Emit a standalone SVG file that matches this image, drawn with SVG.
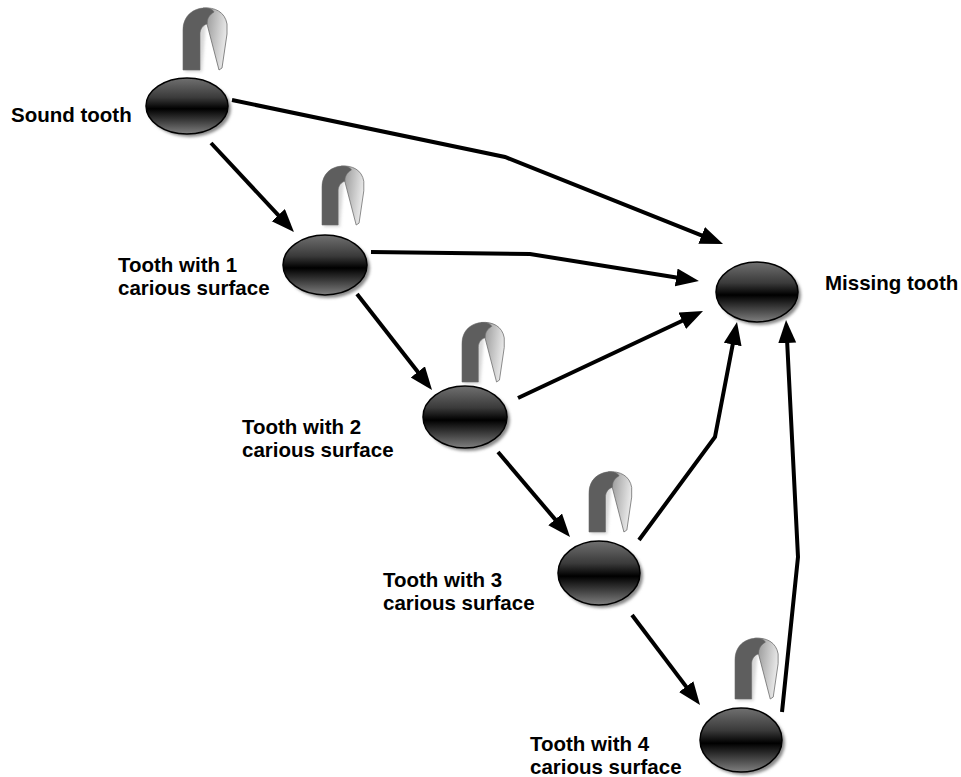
<svg xmlns="http://www.w3.org/2000/svg" width="961" height="777" viewBox="0 0 961 777">
<style>
.lbl{font-family:"Liberation Sans",Arial,sans-serif;font-weight:bold;font-size:20.5px;fill:#000}
.conn{fill:none;stroke:#000;stroke-width:4;stroke-linejoin:miter;marker-end:url(#ah)}
.tooth{fill:url(#tg);stroke:#000;stroke-width:1.5}
.shadow{fill:#8a8a8a;filter:url(#blur)}
</style>
<defs>
<linearGradient id="tg" x1="0" y1="0" x2="0" y2="1">
<stop offset="0" stop-color="#707070"/>
<stop offset="0.35" stop-color="#3a3a3a"/>
<stop offset="0.55" stop-color="#000"/>
<stop offset="0.7" stop-color="#2a2a2a"/>
<stop offset="1" stop-color="#808080"/>
</linearGradient>
<linearGradient id="lg" x1="0" y1="0" x2="1" y2="0.3">
<stop offset="0" stop-color="#8c8c8c"/>
<stop offset="1" stop-color="#e8e8e8"/>
</linearGradient>
<filter id="blur" x="-20%" y="-20%" width="140%" height="140%"><feGaussianBlur stdDeviation="1.5"/></filter>
<marker id="ah" markerUnits="userSpaceOnUse" markerWidth="26" markerHeight="20" refX="16" refY="9" orient="auto">
<path d="M0,0 L23,9 L0,18 Z" fill="#000"/>
</marker>
<g id="loop">
<path d="M2,2 L2,-38 C2,-52 12,-60 24,-60 L19,2 Z" fill="#bdbdbd" opacity="0.6" filter="url(#blur)"/>
<path d="M20,-62 C32,-63 42,-58 44,-46 L44,-36 L39,-2 L36,0 L24,-46 C24,-52 22,-56 20,-58 Z" fill="url(#lg)" stroke="#6a6a6a" stroke-width="0.8"/>
<path d="M0,0 L0,-40 C0,-54 10,-62 22,-62 C27,-62 30,-60 31,-58 C26,-55 24,-51 24,-46 C20,-45 17,-41 17,-36 L17,0 Z" fill="#5e5e5e" stroke="#6a6a6a" stroke-width="0.6"/>
</g>
</defs>

<g id="connectors">
<polyline class="conn" points="232,100 505,157 716.5,241.4"/>
<polyline class="conn" points="211,143 289.2,226.9"/>
<polyline class="conn" points="371,252 530,254 692,280"/>
<polyline class="conn" points="518,398 696.7,314"/>
<polyline class="conn" points="357,294 427.7,384.5"/>
<polyline class="conn" points="498,452 565.5,531.6"/>
<polyline class="conn" points="639,540 715,437 735.7,328.8"/>
<polyline class="conn" points="632,615 695.8,699.4"/>
<polyline class="conn" points="782,712 798,557 786.4,327"/>
</g>

<g id="sound">
<ellipse class="shadow" cx="190" cy="109" rx="41" ry="28"/>
<ellipse class="tooth" cx="187" cy="106" rx="41" ry="28"/>
<use href="#loop" transform="translate(183,70)"/>
<text class="lbl" x="11" y="122">Sound tooth</text>
</g>

<g id="tooth1">
<ellipse class="shadow" cx="328" cy="268" rx="42" ry="30"/>
<ellipse class="tooth" cx="325" cy="265" rx="42" ry="30"/>
<use href="#loop" transform="translate(322,225) scale(0.95)"/>
<text class="lbl" x="118" y="272">Tooth with 1</text>
<text class="lbl" x="118" y="295">carious surface</text>
</g>

<g id="tooth2">
<ellipse class="shadow" cx="468" cy="420" rx="42" ry="31"/>
<ellipse class="tooth" cx="465" cy="417" rx="42" ry="31"/>
<use href="#loop" transform="translate(462,382) scale(0.96)"/>
<text class="lbl" x="242" y="434">Tooth with 2</text>
<text class="lbl" x="242" y="457">carious surface</text>
</g>

<g id="tooth3">
<ellipse class="shadow" cx="602" cy="576" rx="41" ry="32"/>
<ellipse class="tooth" cx="599" cy="573" rx="41" ry="32"/>
<use href="#loop" transform="translate(589,532) scale(0.97)"/>
<text class="lbl" x="383" y="587">Tooth with 3</text>
<text class="lbl" x="383" y="610">carious surface</text>
</g>

<g id="tooth4">
<ellipse class="shadow" cx="744" cy="743" rx="41" ry="32"/>
<ellipse class="tooth" cx="741" cy="740" rx="41" ry="32"/>
<use href="#loop" transform="translate(735,699) scale(0.98)"/>
<text class="lbl" x="530" y="751">Tooth with 4</text>
<text class="lbl" x="530" y="774">carious surface</text>
</g>

<g id="missing">
<ellipse class="shadow" cx="760" cy="295" rx="41" ry="30"/>
<ellipse class="tooth" cx="757" cy="292" rx="41" ry="30"/>
<text class="lbl" x="825" y="290">Missing tooth</text>
</g>
</svg>
